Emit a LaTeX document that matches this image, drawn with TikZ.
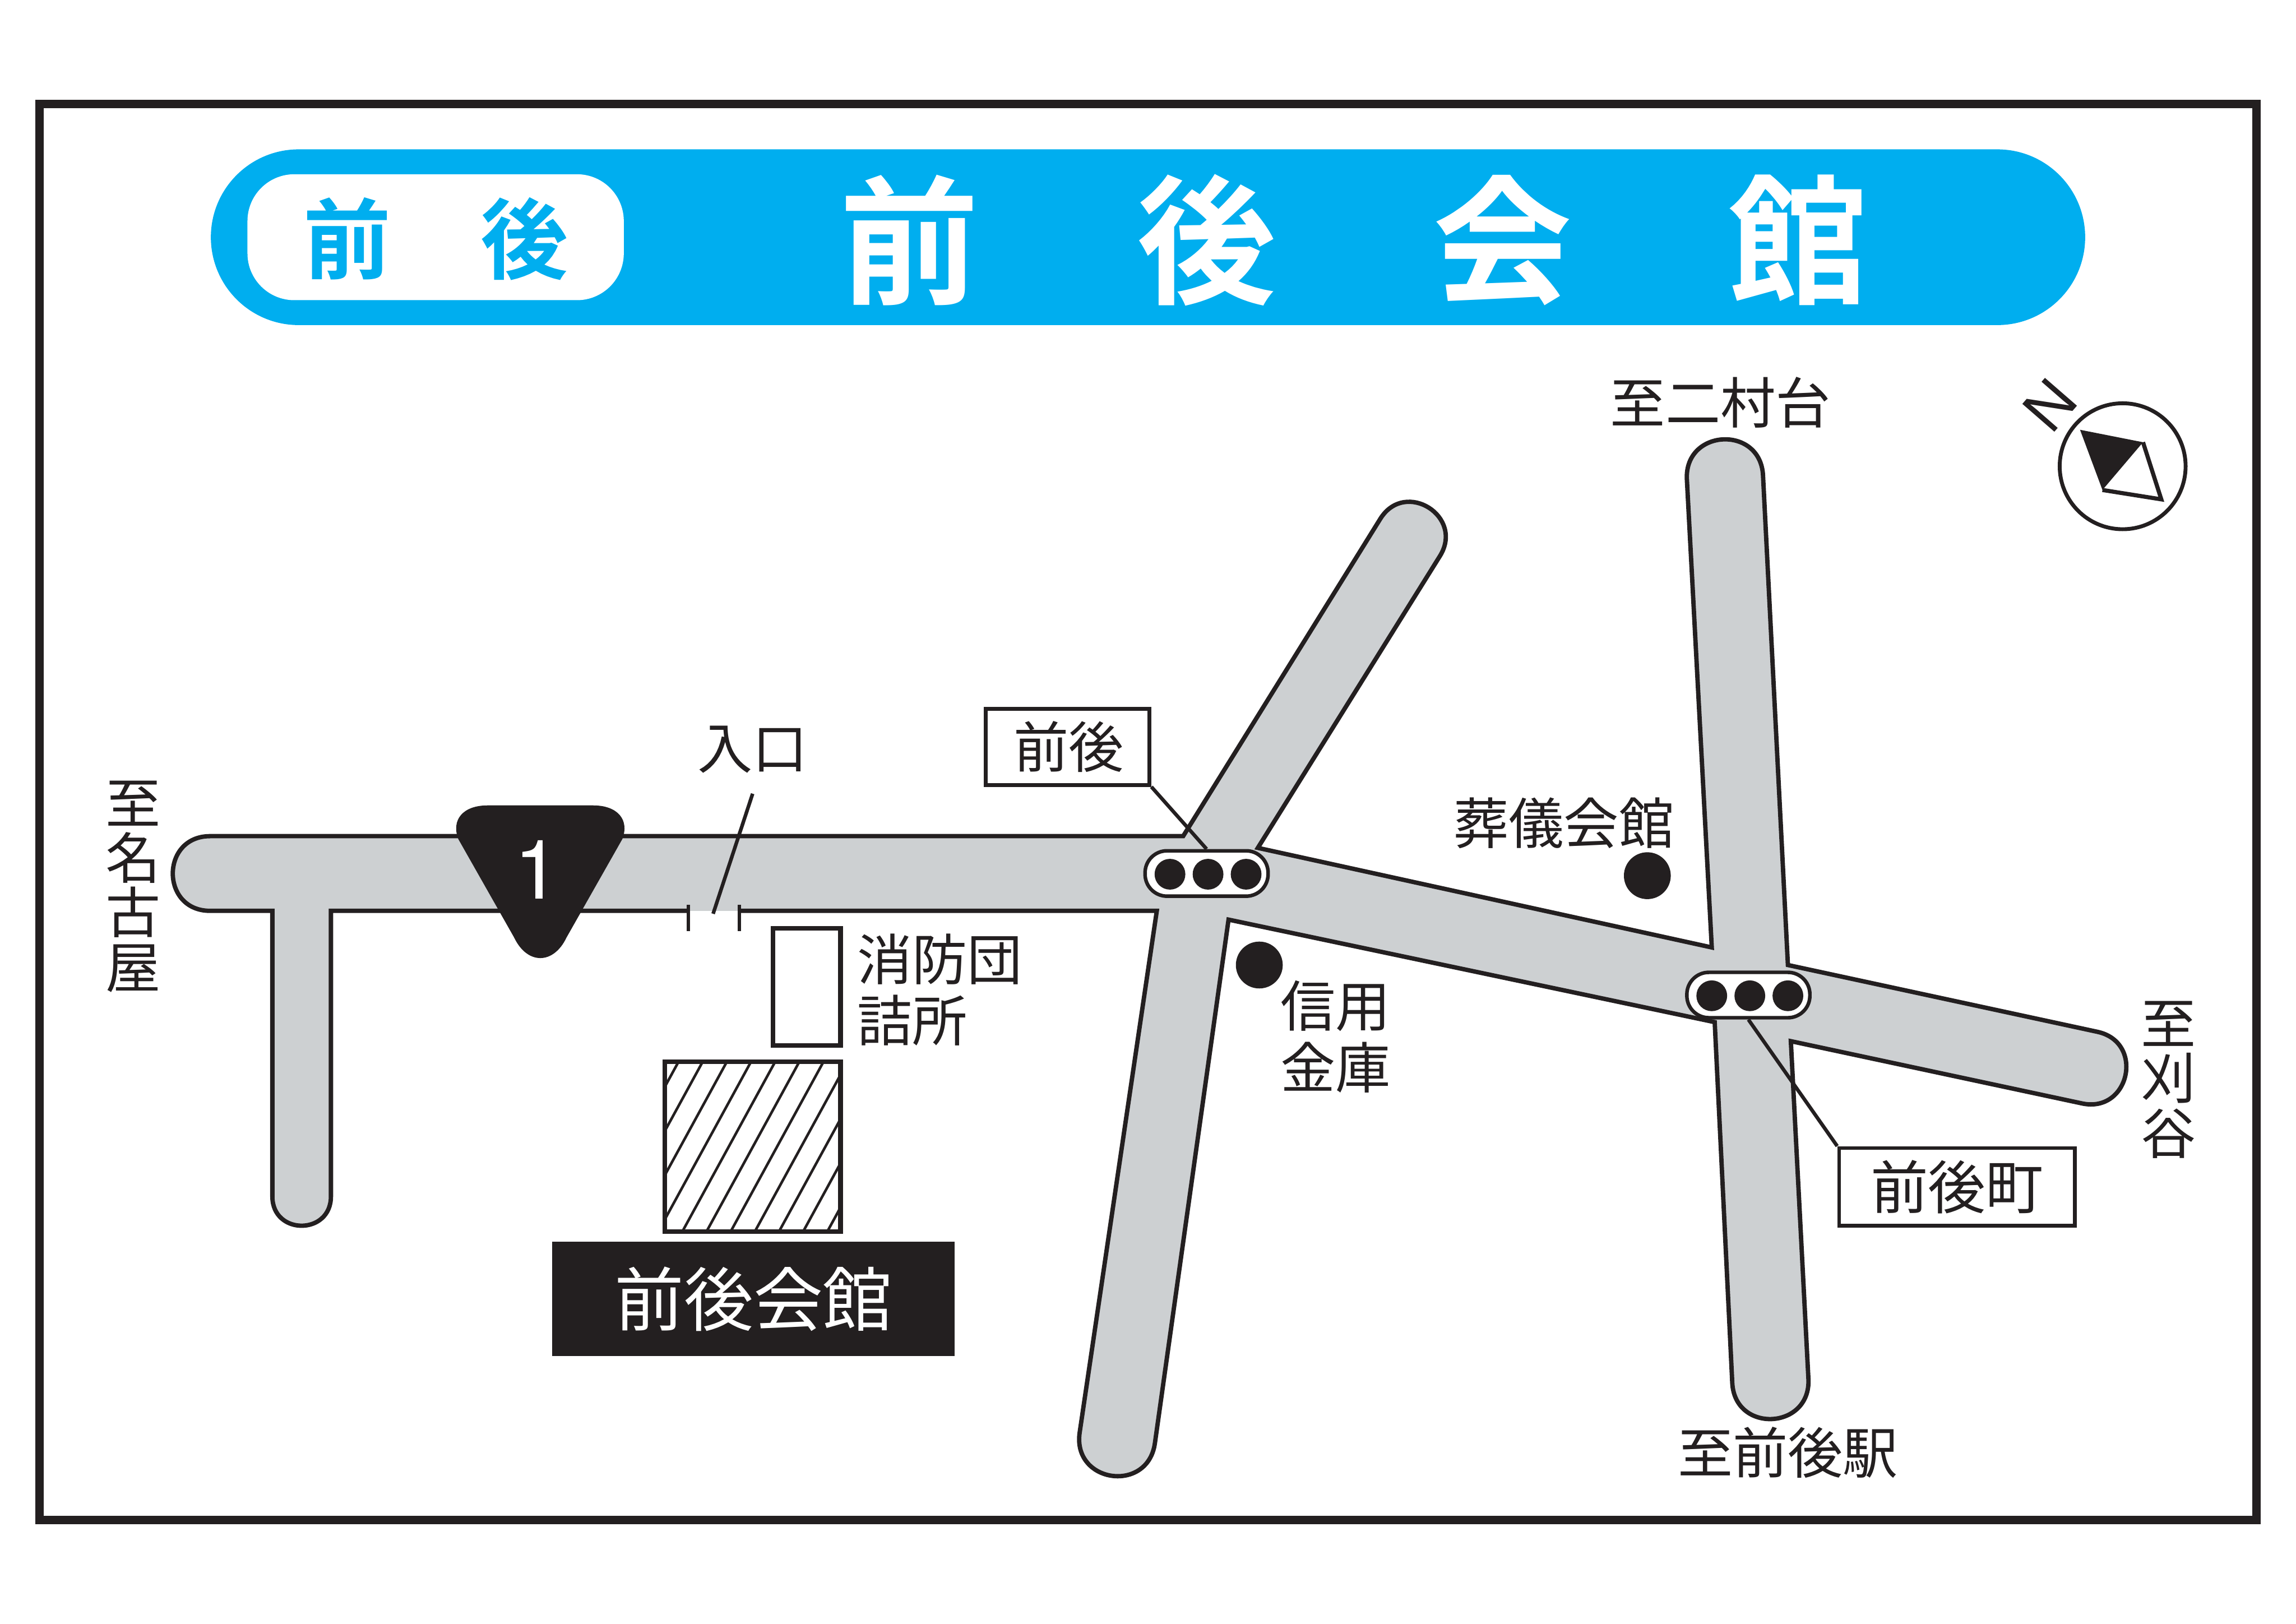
\documentclass[tikz,border=0pt]{standalone}
\usepackage{fontspec}
\setmainfont{Liberation Sans}
\newfontfamily\heros{TeX Gyre Heros}
\newfontfamily\cjk{Noto Sans CJK JP}
\newfontfamily\cjkbold{Noto Sans CJK JP Bold}
\usepackage{xcolor}
\usepackage{tikz}
\definecolor{ink}{RGB}{35,31,32}
\definecolor{banner}{RGB}{0,174,239}
\definecolor{roadgray}{RGB}{205,208,210}
\tikzset{
    label/.style={inner sep=0pt, text=ink, align=center, font=\cjk\fontsize{21.4}{21.3}\selectfont},
    twoline/.style={inner sep=0pt, text=ink, align=left, font=\cjk\fontsize{21.4}{23.8}\selectfont},
    bigtitle/.style={inner sep=0pt, text=white, font=\cjkbold\fontsize{54}{54}\selectfont},
    smalltitle/.style={inner sep=0pt, text=banner, font=\cjkbold\fontsize{34}{34}\selectfont},
    tagbox/.style={rectangle, draw=ink, fill=white, line width=1.5pt, inner sep=0pt, text=ink, font=\cjk\fontsize{21.4}{21}\selectfont},
    signal/.style={rectangle, rounded corners=3mm, draw=ink, fill=white, line width=1.4pt, minimum width=16.8mm, minimum height=6.2mm, inner sep=0pt},
    lamp/.style={circle, fill=ink, minimum size=4.2mm, inner sep=0pt},
    landmark/.style={circle, fill=ink, minimum size=6.4mm, inner sep=0pt},
    road/.style={draw=ink, fill=roadgray, line width=1.7pt, line join=miter},
    leader/.style={draw=ink, line width=1.4pt}
}
\begin{document}
\begin{tikzpicture}[x=0.2mm, y=-0.2mm]
    \useasboundingbox (0,0) rectangle (1568,1108.7);

    % Frame
    \draw[ink, line width=3.3pt] (27,71) rectangle (1541,1038);

    % Title bar
    \fill[banner, rounded corners=12mm] (144,102) rectangle (1424,222);
    \fill[white, rounded corners=6.4mm] (169,119) rectangle (426,205);
    \node[smalltitle] (mae) at (237,163) {前};
    \node[smalltitle] (ato) at (358,163) {後};
    \node[bigtitle] (t1) at (621,164) {前};
    \node[bigtitle] (t2) at (824,164) {後};
    \node[bigtitle] (t3) at (1026,164) {会};
    \node[bigtitle] (t4) at (1228,164) {館};

    % Roads
    \path[road] (505,622) -- (790,622) -- (737.3,978.4)
        .. controls (732.4,1012.8) and (783.8,1020) .. (788.7,985.6)
        -- (839,628) -- (1171,698) -- (1183,944.4)
        .. controls (1184.8,979.1) and (1236.8,976.3) .. (1235,941.6)
        -- (1223,711) -- (1421.8,753.5)
        .. controls (1454.4,760.5) and (1464.9,711.6) .. (1432.3,704.6)
        -- (1221,659) -- (1204,324.7)
        .. controls (1202.3,290.1) and (1150.3,292.7) .. (1152,327.3)
        -- (1169,647) -- (859,579) -- (983.3,379.8)
        .. controls (1000.3,352.7) and (959.7,327.1) .. (942.7,354.2)
        -- (808,571) -- (143.5,571)
        .. controls (109.5,571) and (109.5,622) .. (143.5,622)
        -- (186,622) -- (186,817)
        .. controls (186,843.7) and (226,843.7) .. (226,817)
        -- (226,622) -- (470,622);

    % Route sign
    \fill[ink] (333,550) -- (405,550)
        .. controls (422,550) and (430,560) .. (425,573)
        -- (387,640) .. controls (378,659) and (360,659) .. (351,640)
        -- (313,573) .. controls (308,560) and (316,550) .. (333,550) -- cycle;
    \node[inner sep=0pt, text=white, font=\heros\fontsize{32}{32}\selectfont] (route) at (367,594) {1};

    % Entrance
    \coordinate (gapl) at (470,618);
    \coordinate (gapr) at (505,618);
    \coordinate (entry) at (487,624);
    \coordinate (entrytop) at (514,542);
    \draw[leader] (gapl) -- ++(0,18);
    \draw[leader] (gapr) -- ++(0,18);
    \draw[leader] (entrytop) -- (entry);
    \node[label] (iriguchi) at (514,512) {入口};

    % Buildings
    \draw[ink, line width=1.8pt] (528,634) rectangle (574,714);
    \begin{scope}
        \clip (454,725) rectangle (574,841);
        \foreach \k in {-4,...,7}
            \draw[ink, line width=1pt] ({466+16.5*\k},841) -- ++(63.4,-116);
    \end{scope}
    \draw[ink, line width=1.8pt] (454,725) rectangle (574,841);
    \node[twoline, anchor=west] (shobo) at (585,676) {消防団\\詰所};
    \node[rectangle, fill=ink, minimum width=55mm, minimum height=15.6mm, inner sep=0pt, text=white, font=\cjk\fontsize{27}{27}\selectfont] (kaikan) at (514.5,887) {\raisebox{2pt}{前後会館}};

    % Signals
    \node[signal] (signalA) at (824,596.5) {};
    \node[lamp] (a1) at (799,597) {};
    \node[lamp] (a2) at (825,597) {};
    \node[lamp] (a3) at (851,597) {};
    \node[signal] (signalB) at (1194,679.5) {};
    \node[lamp] (b1) at (1169,680) {};
    \node[lamp] (b2) at (1195,680) {};
    \node[lamp] (b3) at (1221,680) {};

    % Tags
    \node[tagbox, minimum width=22.4mm, minimum height=10.4mm] (tagA) at (729,510) {\hspace{1pt}前後};
    \node[tagbox, minimum width=32.2mm, minimum height=10.6mm, font=\cjk\fontsize{22.4}{22}\selectfont] (tagB) at (1336.5,810.5) {前後町};
    \draw[leader] (tagA.south east) -- (signalA.north);
    \draw[leader] (signalB.south) -- (tagB.north west);

    % Landmarks
    \node[landmark] (sogi) at (1125,598) {};
    \node[landmark] (shinyo) at (860,659) {};
    \node[label] (sogilabel) at (1068,562) {葬儀会館};
    \node[twoline, align=center] (shinyolabel) at (912,708) {信用\\金庫};

    % Destinations
    \node[label] (nagoya) at (91,605.5) {至\\名\\古\\屋};
    \node[label] (kariya) at (1481,737.5) {至\\刈\\谷};
    \node[label] (futamura) at (1175,275) {至二村台};
    \node[label] (station) at (1221,992) {至前後駅};

    % Compass
    \draw[ink, line width=1.5pt] (1449.6,318.4) circle[radius=43];
    \fill[ink] (1420.5,293.5) -- (1463.5,302) -- (1435.8,334.6) -- cycle;
    \draw[ink, line width=1.6pt, line join=miter] (1463.5,302) -- (1476,341) -- (1435.8,334.6);
    \node[inner sep=0pt, rotate=49, text=ink, font=\fontsize{24}{24}\selectfont] (north) at (1400,276.5) {N};
\end{tikzpicture}
\end{document}
